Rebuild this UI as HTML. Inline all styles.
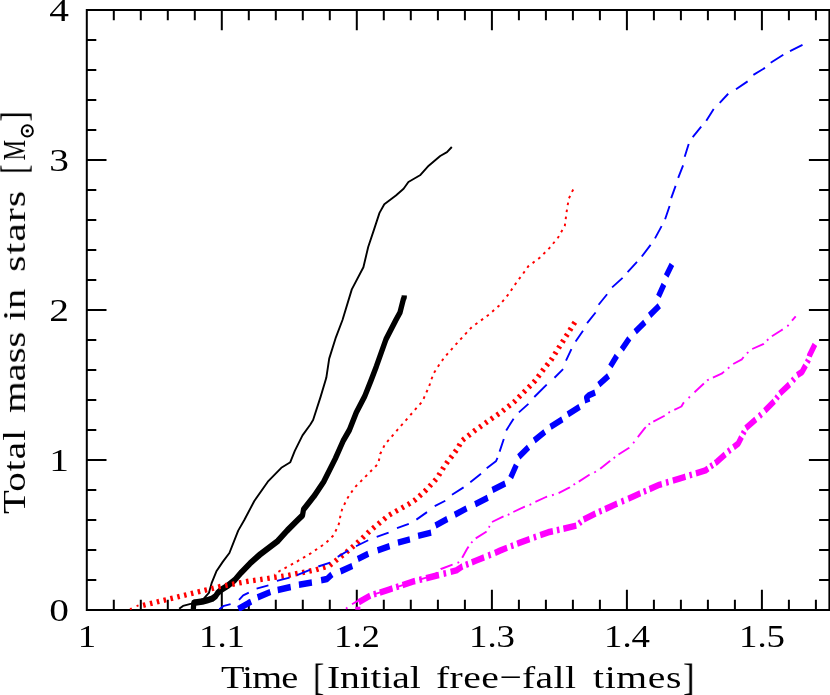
<!DOCTYPE html>
<html><head><meta charset="utf-8"><title>Total mass in stars</title>
<style>
html,body{margin:0;padding:0;background:#fff;}
body{width:830px;height:695px;position:relative;overflow:hidden;font-family:"Liberation Serif",serif;color:#000;}
.t{position:absolute;display:block;white-space:nowrap;font-size:32.5px;line-height:1;will-change:transform;}
</style></head><body>
<svg width="830" height="695" viewBox="0 0 830 695" style="position:absolute;left:0;top:0">
<g stroke="#000" stroke-width="2.0" fill="none">
<rect x="86.8" y="10.0" width="742.6" height="600.0"/>
<path d="M113.8,610.0v-10.3M113.8,10.0v10.3M140.8,610.0v-10.3M140.8,10.0v10.3M167.8,610.0v-10.3M167.8,10.0v10.3M194.8,610.0v-10.3M194.8,10.0v10.3M221.8,610.0v-20.2M221.8,10.0v20.2M248.8,610.0v-10.3M248.8,10.0v10.3M275.8,610.0v-10.3M275.8,10.0v10.3M302.8,610.0v-10.3M302.8,10.0v10.3M329.8,610.0v-10.3M329.8,10.0v10.3M356.8,610.0v-20.2M356.8,10.0v20.2M383.8,610.0v-10.3M383.8,10.0v10.3M410.8,610.0v-10.3M410.8,10.0v10.3M437.9,610.0v-10.3M437.9,10.0v10.3M464.9,610.0v-10.3M464.9,10.0v10.3M491.9,610.0v-20.2M491.9,10.0v20.2M518.9,610.0v-10.3M518.9,10.0v10.3M545.9,610.0v-10.3M545.9,10.0v10.3M572.9,610.0v-10.3M572.9,10.0v10.3M599.9,610.0v-10.3M599.9,10.0v10.3M626.9,610.0v-20.2M626.9,10.0v20.2M653.9,610.0v-10.3M653.9,10.0v10.3M680.9,610.0v-10.3M680.9,10.0v10.3M707.9,610.0v-10.3M707.9,10.0v10.3M734.9,610.0v-10.3M734.9,10.0v10.3M761.9,610.0v-20.2M761.9,10.0v20.2M788.9,610.0v-10.3M788.9,10.0v10.3M815.9,610.0v-10.3M815.9,10.0v10.3M86.8,580.0h9.5M829.4,580.0h-10.3M86.8,550.0h9.5M829.4,550.0h-10.3M86.8,520.0h9.5M829.4,520.0h-10.3M86.8,490.0h9.5M829.4,490.0h-10.3M86.8,460.0h19.7M829.4,460.0h-20.5M86.8,430.0h9.5M829.4,430.0h-10.3M86.8,400.0h9.5M829.4,400.0h-10.3M86.8,370.0h9.5M829.4,370.0h-10.3M86.8,340.0h9.5M829.4,340.0h-10.3M86.8,310.0h19.7M829.4,310.0h-20.5M86.8,280.0h9.5M829.4,280.0h-10.3M86.8,250.0h9.5M829.4,250.0h-10.3M86.8,220.0h9.5M829.4,220.0h-10.3M86.8,190.0h9.5M829.4,190.0h-10.3M86.8,160.0h19.7M829.4,160.0h-20.5M86.8,130.0h9.5M829.4,130.0h-10.3M86.8,100.0h9.5M829.4,100.0h-10.3M86.8,70.0h9.5M829.4,70.0h-10.3M86.8,40.0h9.5M829.4,40.0h-10.3"/>
</g>
<clipPath id="cp"><rect x="86.8" y="10.0" width="742.6" height="600.9"/></clipPath>
<g clip-path="url(#cp)">
<g fill="none" stroke-linejoin="round" stroke-width="1.9">
<polyline points="179.2,608.8 183.0,605.9 191.6,603.7 203.5,598.8 208.9,592.9 211.6,583.2 216.4,571.3 222.9,561.6 229.4,553.0 232.4,545.4 238.2,530.6 244.3,520.0 254.3,501.0 267.8,481.7 281.3,467.8 290.3,462.2 294.8,450.8 302.5,435.4 310.2,424.8 313.1,420.0 320.5,397.1 326.3,377.8 329.2,358.6 335.9,337.3 342.5,320.0 351.8,289.4 363.4,267.2 368.2,247.0 374.0,229.6 379.5,212.9 384.3,204.2 395.9,195.5 403.6,188.8 408.4,182.0 420.0,175.3 428.7,165.7 440.2,156.0 447.0,152.2 451.8,147.0" stroke="#000"/>
<path d="M193.3,491.77L193.8,486.13L202.4,485.16L207.0,484.11L212.3,482.74L215.5,480.81L217.5,478.39L220.7,475.97L228.3,472.02L234.8,467.74L241.3,461.61L250.0,454.35L260.0,447.18L277.5,436.45L287.1,427.90L297.7,419.35L302.5,415.65L303.5,410.97L314.1,400.08L323.7,388.47L335.3,369.84L343.0,355.81L349.4,346.77L356.3,332.66L364.6,319.84L371.2,306.45L376.4,295.40L386.0,273.63L395.9,258.06L400.0,252.02L403.3,241.53L404.2,239.76L404.3,238.23" stroke="#000" stroke-width="5.25" transform="scale(1,1.24)"/>
<path d="M130.0,609.20L131.8,608.30M136.6,606.20L138.5,605.40M274.2,574.60L274.7,574.27M278.4,571.81L280.4,570.50L280.6,570.40M284.5,568.29L286.8,567.06M290.8,564.96L293.1,563.73M296.9,561.53L299.2,560.21M303.0,557.94L305.3,556.62M309.1,554.34L310.2,553.70L311.3,552.95M315.0,550.42L317.1,548.96M320.8,546.44L323.0,544.97M326.5,542.28L328.4,540.44M331.5,537.29L333.4,535.45M335.4,531.46L336.5,529.14M338.4,525.11L339.3,522.65M340.0,518.25L340.1,517.30L340.5,515.70M341.6,511.37L342.0,509.60L342.3,508.89M344.2,504.84L345.3,502.48M347.3,498.47L348.7,496.31M351.2,492.60L352.6,490.44M355.3,486.84L357.1,485.01M360.3,481.85L362.1,480.01M365.2,476.83L367.1,474.98M370.2,471.80L372.0,469.95M375.2,466.78L377.0,464.93M378.8,461.05L379.3,458.50M380.2,454.12L380.2,454.00L381.3,451.78M383.3,447.77L384.4,445.44M387.1,441.88L388.8,439.91M391.7,436.52L393.4,434.55M396.3,431.16L396.6,430.80L398.0,429.20M400.9,425.84L402.7,423.89M405.6,420.53L407.3,418.57M410.3,415.22L412.0,413.26M414.9,409.90L416.6,407.94M419.6,404.58L421.3,402.62M423.6,398.88L424.6,396.49M426.4,392.39L427.5,390.01M429.2,385.91L429.4,385.50L430.1,383.46M431.5,379.23L432.4,376.77M434.1,372.69L435.5,370.50M437.9,366.72L439.3,364.52M441.9,360.88L443.4,358.80M446.2,355.32L447.9,353.37M450.9,350.02L452.6,348.07M455.6,344.72L457.3,342.78M460.3,339.47L462.1,337.57M465.1,334.30L466.9,332.39M469.9,329.13L471.7,327.22M475.3,324.54L477.4,323.01M481.0,320.39L483.1,318.87M486.7,316.25L488.8,314.72M492.2,311.80L494.1,310.07M497.5,307.09L499.0,305.70L499.3,305.30M502.2,301.87L503.9,299.88M506.7,296.45L508.4,294.46M510.9,290.77L512.3,288.60M514.8,284.88L516.3,282.72M518.9,279.13L520.5,277.05M523.2,273.47L524.7,271.39M527.3,267.73L528.2,266.40L529.0,265.81M532.6,263.13L534.6,261.57M538.2,258.89L539.8,257.70L540.2,257.27M543.4,254.11L545.2,252.27M548.4,249.11L549.4,248.10L550.1,247.20M553.0,243.75L554.6,241.74M557.5,238.28L558.1,237.50L558.9,236.13M561.1,232.26L562.4,230.01M564.7,226.14L564.8,225.90L565.1,223.60M565.7,219.17L566.0,216.59M566.6,212.16L566.7,211.40L567.0,209.59M567.7,205.18L568.1,202.61M569.0,198.26L570.1,195.92M572.0,191.88L573.2,189.54" stroke="#f00" stroke-width="1.95"/>
<path d="M143.1,605.37L145.5,604.78M150.0,603.69L152.4,603.10M156.8,602.02L159.2,601.43M163.6,600.35L166.1,599.76M170.4,598.68L172.9,598.09M177.3,597.01L179.7,596.42M184.1,595.34L186.5,594.75M190.9,593.67L193.3,593.08M197.7,592.01L200.2,591.41M204.5,590.34L207.0,589.74M211.4,588.67L213.8,588.07M218.2,587.00L219.4,586.70L220.6,586.47M225.2,585.62L227.6,585.15M232.1,584.30L234.6,583.84M239.1,582.98L241.6,582.52M246.1,581.67L248.6,581.21M253.1,580.54L255.6,580.18M260.2,579.52L262.6,579.16M267.2,578.50L269.7,578.14M274.2,577.47L276.7,577.11M281.3,576.45L283.7,576.09M288.3,575.36L290.7,574.87M295.2,573.97L297.7,573.47M302.2,572.57L304.7,572.07M309.2,571.17L311.6,570.68M316.1,569.75L318.5,569.01M322.9,567.64L325.3,566.90M329.7,565.46L331.6,563.91M335.3,561.04L337.2,559.49M340.8,556.63L342.8,555.08M346.4,552.17L348.3,550.56M351.8,547.59L353.7,545.97M357.2,542.96L359.0,541.24M362.3,538.07L364.1,536.35M367.5,533.18L369.3,531.46M372.8,528.48L374.7,526.89M378.3,523.95L380.2,522.36M383.8,519.43L385.7,517.84M389.3,514.97L391.5,513.75M395.5,511.50L397.7,510.28M401.7,508.03L403.9,506.81M407.9,504.56L408.2,504.40L410.0,503.22M413.9,500.72L415.0,500.00L415.9,499.22M419.3,496.14L421.2,494.48M424.6,491.40L425.5,490.60L426.4,489.65M429.5,486.27L431.2,484.44M434.4,481.06L436.1,479.23M438.7,475.48L440.0,473.35M442.4,469.42L443.7,467.29M446.3,463.49L447.8,461.50M450.6,457.82L452.1,455.82M454.9,452.14L456.4,450.14M458.8,446.20L460.0,444.06M462.5,440.23L464.5,438.68M468.1,435.84L470.1,434.29M473.7,431.45L475.7,429.90M479.5,427.25L481.5,425.82M485.3,423.17L487.3,421.73M491.0,419.11L493.1,417.67M496.8,415.10L498.9,413.72M502.6,410.99L504.5,409.45M508.1,406.65L510.1,405.11M513.7,402.30L514.2,401.90L515.5,400.57M518.6,397.29L519.3,396.60L520.4,395.51M523.6,392.29L525.4,390.53M528.6,387.31L530.4,385.54M533.6,382.32L534.7,381.20L535.3,380.47M538.0,376.83L539.5,374.84M542.2,371.20L543.7,369.20M546.5,365.58L548.1,363.65M551.0,360.14L551.1,360.00L552.3,358.04M554.8,354.19L556.1,352.07M558.5,348.22L559.8,346.11M562.3,342.25L563.6,340.14M566.0,336.28L567.4,334.17M569.8,330.32L571.1,328.20M573.5,324.35L574.9,322.23" stroke="#f00" stroke-width="5.3"/>
<path d="M219.3,609.36L224.0,605.80L230.6,604.15M239.0,599.83L243.2,595.40L248.8,592.53M256.6,588.56L268.4,585.34M276.9,580.85L289.6,577.65M297.1,575.13L309.9,569.87M318.3,566.49L330.1,562.61M337.7,556.91L348.3,550.49M356.0,546.26L368.2,540.24M376.7,536.80L388.6,532.60M397.0,528.21L408.8,523.89M416.4,519.65L427.0,512.15M434.7,506.07L445.3,500.73M452.0,494.82L463.6,487.38M470.3,482.27L481.0,473.83M486.7,468.26L495.9,461.30L497.5,457.96M499.6,451.67L503.8,438.93M506.2,430.41L513.6,418.79M518.9,412.40L528.4,403.90M534.3,397.02L546.7,384.58M554.5,377.72L563.1,369.18M566.0,360.54L571.4,349.06M575.6,341.49L583.0,330.81M587.1,323.17L595.6,312.53M598.6,304.77L607.1,294.23M612.1,287.40L622.6,277.90M627.6,272.04L637.0,261.86M641.8,256.48L650.6,244.82M655.0,238.33L661.6,226.17M665.1,219.27L669.6,206.03M671.2,198.06L675.6,185.84M678.2,177.96L683.1,165.34M684.7,156.77L688.7,143.93M692.7,137.07L701.2,126.53M706.3,120.71L713.7,109.09M719.7,102.94L728.2,93.76M736.0,89.34L747.6,81.36M753.4,74.91L765.0,67.89M770.7,62.72L783.3,54.78M790.0,51.07L802.5,44.83" stroke="#00f"/>
<path d="M238.3,491.17L251.1,485.20M257.6,481.75L270.4,477.45M277.7,475.77L290.7,473.34M298.9,471.54L311.9,469.83M321.1,467.94L327.0,466.94L331.9,463.24M340.5,460.80L352.3,456.46M357.8,450.73L368.3,446.52M377.6,443.82L389.6,440.37M397.9,437.57L409.9,434.93M418.1,432.15L431.1,429.54M435.5,423.74L447.3,418.52M454.8,415.19L466.6,409.97M475.1,406.63L487.8,401.36M492.4,395.09L505.2,389.99M510.7,385.19L516.3,374.97M518.8,368.46L528.5,360.65M534.2,355.19L544.8,348.28M550.5,344.25L562.3,338.25M567.8,334.18L579.6,328.08M587.8,324.58L586.6,320.65L589.0,318.71L595.1,316.55M598.8,310.13L608.5,303.17M610.4,295.49L616.8,286.85M621.8,281.67L629.3,272.92M635.2,267.58L644.8,259.84M649.6,254.35L659.3,246.62M658.5,238.98L663.9,229.41M666.2,222.60L671.9,213.20" stroke="#00f" stroke-width="5.25" transform="scale(1,1.24)"/>
<path d="M346.0,608.70L347.4,607.61M352.0,604.26L361.2,598.90L363.3,598.15M367.6,596.55L369.4,595.90M373.8,594.44L386.0,590.55M390.4,589.12L392.2,588.52M396.7,587.06L408.8,583.03M413.2,581.56L414.3,581.20L415.0,580.99M419.5,579.69L428.0,577.20L431.6,575.55M435.8,573.60L436.0,573.50L437.2,572.38M440.7,569.27L441.0,569.00L452.5,564.60L452.6,564.57M457.5,562.81L458.3,562.50L458.9,561.73M462.2,557.70L467.0,549.00L468.6,546.62M471.2,542.93L472.5,541.59M475.7,538.40L486.3,531.70L486.4,531.48M488.8,527.59L489.2,526.90L489.7,525.95M492.0,522.00L503.5,516.36M507.7,514.94L508.4,514.70L509.4,514.14M513.3,512.00L524.8,506.60L524.9,506.57M529.5,504.96L530.2,504.70L531.2,504.16M535.4,501.80L546.0,497.00L547.1,496.67M552.0,495.24L552.8,495.00L553.8,494.68M558.6,493.10L569.2,487.70L570.0,487.20M573.5,484.82L574.0,484.50L575.1,483.82M578.8,481.60L589.4,474.80L589.6,474.71M594.2,472.47L595.2,472.00L595.9,471.54M600.2,468.70L609.9,461.00L610.2,460.75M613.6,458.20L615.1,457.05M618.5,454.50L629.2,447.70L629.3,447.61M633.1,443.23L633.4,442.90L634.3,441.74M637.8,437.10L644.6,428.40L645.8,427.16M648.5,424.55L650.1,423.59M653.3,421.70L664.1,416.00L664.6,415.65M668.4,412.87L668.9,412.50L670.0,411.95M674.3,409.91L681.4,406.50L683.4,403.00L684.0,402.38M688.6,397.98L689.9,396.65M694.5,392.28L703.9,383.57M707.2,380.51L707.5,380.20L708.8,379.59M712.9,377.71L721.6,373.70L724.1,371.63M727.9,368.43L729.4,367.21M733.2,364.00L741.9,359.30L743.6,356.96M746.9,353.34L748.4,352.13M752.2,349.00L763.2,344.20L763.8,343.64M767.0,340.47L768.0,339.50L768.4,339.17M771.9,336.30L780.6,330.80L782.7,329.40M787.3,326.30L787.7,326.00L788.6,324.93M792.0,320.60L795.7,316.30" stroke="#f0f"/>
<path d="M358.7,485.73L370.2,480.37M373.8,479.40L376.2,478.77M379.8,477.85L389.0,475.48L392.5,474.56M396.2,473.54L398.7,472.88M402.5,471.87L414.3,468.71L415.1,468.54M419.4,467.69L421.9,467.18M426.1,466.33L437.9,463.95L439.0,463.72M443.5,462.75L446.1,462.21M450.6,461.24L456.4,460.00L462.2,456.85L462.5,456.76M465.9,455.56L468.3,454.73M471.8,453.53L475.7,452.18L484.1,449.46M488.3,448.10L490.7,447.32M494.9,445.97L500.0,444.03L507.1,441.74M510.9,440.52L513.3,439.75M517.1,438.53L519.3,437.82L529.6,434.79M533.7,433.57L536.1,432.85M540.2,431.64L548.2,429.27L552.9,428.39M556.9,427.63L559.4,427.15M563.4,426.39L576.3,423.93M579.1,422.22L580.9,420.75M583.6,418.91L595.5,414.08M599.1,412.73L601.5,411.87M605.1,410.55L615.7,406.69L617.2,406.14M621.5,404.59L623.9,403.73M628.2,402.18L634.9,399.76L640.3,397.80M643.7,396.58L646.1,395.72M649.5,394.50L659.3,390.97L661.8,390.36M666.0,389.30L668.5,388.68M672.8,387.61L684.3,384.76L685.5,384.45M689.5,383.44L691.9,382.81M695.9,381.80L705.5,379.35L708.1,377.79M710.6,376.27L712.7,375.01M715.2,373.49L717.1,372.34L725.2,366.40M728.2,364.13L728.7,363.79L730.2,362.79M733.5,360.69L738.3,357.58L741.5,352.44M743.1,349.83L744.2,347.94M745.8,345.32L755.8,338.26M759.4,335.53L761.3,334.05M764.8,331.21L774.2,323.63M776.4,321.41L777.8,319.68M779.8,317.34L789.5,309.97M792.6,307.13L794.2,305.49M797.2,302.50L802.0,300.00L805.6,294.62M807.2,292.07L808.3,290.40L808.4,290.19M809.3,287.43L809.6,286.53L814.9,277.72" stroke="#f0f" stroke-width="5.25" transform="scale(1,1.24)"/>
</g>
<path d="M355.3,608.2H360.4" stroke="#f0f" stroke-width="3" fill="none"/>
</g>
<circle cx="27.3" cy="130.9" r="5.6" fill="none" stroke="#000" stroke-width="1.9"/><circle cx="27.3" cy="130.9" r="1.7" fill="#000"/>
</svg>
<span class="t" style="left:29px;top:-4.9px;width:40px;text-align:right;font-size:31.5px;transform-origin:100% 0;transform:scaleX(1.25)">4</span>
<span class="t" style="left:29px;top:145.1px;width:40px;text-align:right;font-size:31.5px;transform-origin:100% 0;transform:scaleX(1.25)">3</span>
<span class="t" style="left:29px;top:295.1px;width:40px;text-align:right;font-size:31.5px;transform-origin:100% 0;transform:scaleX(1.25)">2</span>
<span class="t" style="left:29px;top:445.1px;width:40px;text-align:right;font-size:31.5px;transform-origin:100% 0;transform:scaleX(1.25)">1</span>
<span class="t" style="left:29px;top:595.1px;width:40px;text-align:right;font-size:31.5px;transform-origin:100% 0;transform:scaleX(1.25)">0</span>
<span class="t" style="left:47px;top:621.3px;width:80px;text-align:center;font-size:31.5px;transform-origin:50% 0;transform:scaleX(1.17)">1</span>
<span class="t" style="left:182px;top:621.3px;width:80px;text-align:center;font-size:31.5px;transform-origin:50% 0;transform:scaleX(1.17)">1.1</span>
<span class="t" style="left:317px;top:621.3px;width:80px;text-align:center;font-size:31.5px;transform-origin:50% 0;transform:scaleX(1.17)">1.2</span>
<span class="t" style="left:452px;top:621.3px;width:80px;text-align:center;font-size:31.5px;transform-origin:50% 0;transform:scaleX(1.17)">1.3</span>
<span class="t" style="left:587px;top:621.3px;width:80px;text-align:center;font-size:31.5px;transform-origin:50% 0;transform:scaleX(1.17)">1.4</span>
<span class="t" style="left:722px;top:621.3px;width:80px;text-align:center;font-size:31.5px;transform-origin:50% 0;transform:scaleX(1.17)">1.5</span>
<span class="t" style="left:220.60px;top:660.78px;font-size:32.5px;letter-spacing:-0.62px;transform-origin:0 0;transform:scaleX(1.180)">Time</span>
<span class="t" style="left:313.00px;top:657.78px;font-size:38px;letter-spacing:0.00px;transform-origin:0 0;transform:scaleX(0.887)">[</span>
<span class="t" style="left:326.70px;top:660.78px;font-size:32.5px;letter-spacing:-0.13px;transform-origin:0 0;transform:scaleX(1.220)">Initial</span>
<span class="t" style="left:436.10px;top:660.78px;font-size:32.5px;letter-spacing:0.32px;transform-origin:0 0;transform:scaleX(1.220)">free&#8722;fall</span>
<span class="t" style="left:592.90px;top:660.78px;font-size:32.5px;letter-spacing:0.54px;transform-origin:0 0;transform:scaleX(1.220)">times</span>
<span class="t" style="left:683.00px;top:657.78px;font-size:38px;letter-spacing:0.00px;transform-origin:0 0;transform:scaleX(0.916)">]</span>
<span class="t" style="left:0;top:0;font-size:32.5px;letter-spacing:0.92px;transform-origin:0 0;transform:translate(-2.02px,514.00px) rotate(-90deg) scaleX(1.200)">Total</span>
<span class="t" style="left:0;top:0;font-size:32.5px;letter-spacing:-0.03px;transform-origin:0 0;transform:translate(-2.02px,412.80px) rotate(-90deg) scaleX(1.250)">mass</span>
<span class="t" style="left:0;top:0;font-size:32.5px;letter-spacing:0.34px;transform-origin:0 0;transform:translate(-2.02px,320.80px) rotate(-90deg) scaleX(1.250)">in</span>
<span class="t" style="left:0;top:0;font-size:32.5px;letter-spacing:0.93px;transform-origin:0 0;transform:translate(-2.02px,271.80px) rotate(-90deg) scaleX(1.280)">stars</span>
<span class="t" style="left:0;top:0;font-size:38px;letter-spacing:0.00px;transform-origin:0 0;transform:translate(-5.32px,173.70px) rotate(-90deg) scaleX(0.729)">[</span>
<span class="t" style="left:0;top:0;font-size:32.5px;letter-spacing:0.00px;transform-origin:0 0;transform:translate(-2.02px,160.40px) rotate(-90deg) scaleX(0.709)">M</span>
<span class="t" style="left:0;top:0;font-size:38px;letter-spacing:0.00px;transform-origin:0 0;transform:translate(-5.32px,121.60px) rotate(-90deg) scaleX(0.813)">]</span>
</body></html>
